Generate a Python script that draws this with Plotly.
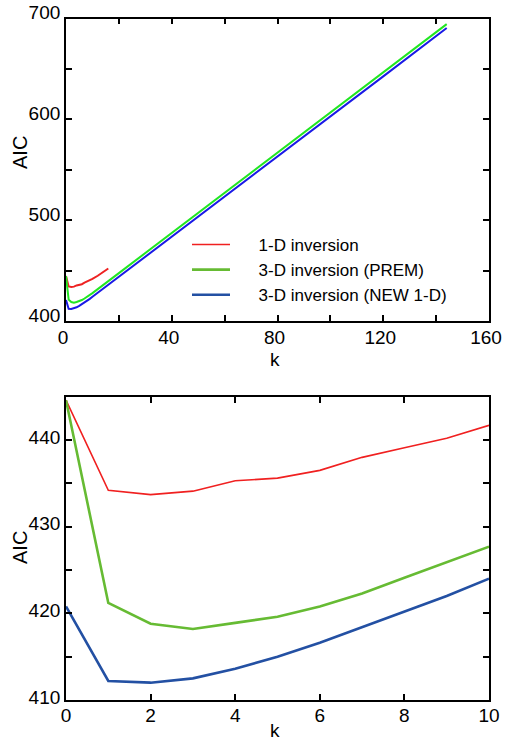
import plotly.graph_objects as go

# ---------------- data ----------------
# top panel (full range of k)
k_red_full = [0, 1, 2, 3, 4, 5, 6, 7, 8, 9, 10, 12, 14, 16]
aic_red_full = [444.6, 434.2, 433.7, 434.1, 435.3, 435.6, 436.5, 438.0, 439.1, 440.2, 441.7, 444.9, 448.4, 452.1]

k_3d_full = [0, 1, 2, 3, 4, 5, 6, 7, 8, 9, 10, 20, 40, 60, 80, 100, 120, 144]
aic_prem_full = [444.6, 421.2, 418.8, 418.2, 418.9, 419.6, 420.8, 422.3, 424.1, 425.9, 427.7,
                 447.5, 487.3, 527.0, 566.8, 606.5, 646.3, 694.4]
aic_new_full = [420.8, 412.2, 412.0, 412.5, 413.6, 415.0, 416.6, 418.4, 420.2, 422.0, 424.0,
                443.8, 483.6, 523.3, 563.1, 602.8, 642.6, 690.6]

# bottom panel (zoom k = 0..10)
k_zoom = [0, 1, 2, 3, 4, 5, 6, 7, 8, 9, 10]
aic_red = [444.6, 434.2, 433.7, 434.1, 435.3, 435.6, 436.5, 438.0, 439.1, 440.2, 441.7]
aic_prem = [444.6, 421.2, 418.8, 418.2, 418.9, 419.6, 420.8, 422.3, 424.1, 425.9, 427.7]
aic_new = [420.8, 412.2, 412.0, 412.5, 413.6, 415.0, 416.6, 418.4, 420.2, 422.0, 424.0]

names = ["1-D inversion", "3-D inversion (PREM)", "3-D inversion (NEW 1-D)"]

top_x_ticks = [0, 20, 40, 60, 80, 100, 120, 140, 160]
top_x_labels = ["0", "", "40", "", "80", "", "120", "", "160"]
top_y_ticks = [400, 450, 500, 550, 600, 650, 700]
top_y_labels = ["400", "", "500", "", "600", "", "700"]
bot_x_ticks = [0, 2, 4, 6, 8, 10]
bot_x_labels = ["0", "2", "4", "6", "8", "10"]
bot_y_ticks = [410, 415, 420, 425, 430, 435, 440, 445]
bot_y_labels = ["410", "", "420", "", "430", "", "440", ""]

FONT = "Liberation Sans, Arial, Helvetica, sans-serif"
PAD = "\u00a0" * 5

fig = go.Figure()
# top panel traces
fig.add_trace(go.Scatter(x=k_red_full, y=aic_red_full, mode="lines", line=dict(color="#ee2222", width=2),
                         showlegend=False, xaxis="x", yaxis="y"))
fig.add_trace(go.Scatter(x=k_3d_full, y=aic_prem_full, mode="lines", line=dict(color="#22e622", width=2),
                         showlegend=False, xaxis="x", yaxis="y"))
fig.add_trace(go.Scatter(x=k_3d_full, y=aic_new_full, mode="lines", line=dict(color="#1a1ae6", width=2),
                         showlegend=False, xaxis="x", yaxis="y"))
# bottom panel traces (also used for the legend)
fig.add_trace(go.Scatter(x=k_zoom, y=aic_red, mode="lines", name=PAD + names[0],
                         line=dict(color="#f02020", width=1.6), xaxis="x2", yaxis="y2"))
fig.add_trace(go.Scatter(x=k_zoom, y=aic_prem, mode="lines", name=PAD + names[1],
                         line=dict(color="#66bb33", width=2.6), xaxis="x2", yaxis="y2"))
fig.add_trace(go.Scatter(x=k_zoom, y=aic_new, mode="lines", name=PAD + names[2],
                         line=dict(color="#2350a3", width=2.6), xaxis="x2", yaxis="y2"))

axis_common = dict(showline=True, linecolor="black", linewidth=1.8, mirror="allticks",
                   ticks="inside", ticklen=6, tickwidth=1.5, tickcolor="black", automargin=False,
                   showgrid=False, zeroline=False, tickfont=dict(family=FONT, size=19, color="black"))

H = 741.0
fig.update_layout(
    width=505, height=741,
    margin=dict(l=66, r=16, t=0, b=0),
    paper_bgcolor="white", plot_bgcolor="white",
    font=dict(family=FONT, color="black"),
    xaxis=dict(domain=[0, 1], range=[0, 160], tickvals=top_x_ticks, ticktext=top_x_labels,
               anchor="y", ticklabelshift=-3, ticklabelstandoff=-2, **axis_common),
    yaxis=dict(domain=[1 - 321 / H, 1 - 18.5 / H], range=[400, 700], tickvals=top_y_ticks,
               ticktext=top_y_labels, anchor="x", ticklabelshift=-6, **axis_common),
    xaxis2=dict(domain=[0, 1], range=[0, 10], tickvals=bot_x_ticks, ticktext=bot_x_labels,
                anchor="y2", ticklabelstandoff=-3, **axis_common),
    yaxis2=dict(domain=[1 - 700 / H, 1 - 396.7 / H], range=[410, 445], tickvals=bot_y_ticks,
                ticktext=bot_y_labels, anchor="x2", ticklabelshift=-3, **axis_common),
    legend=dict(x=(187 - 66) / 423.0, y=1 - 227 / H, xanchor="left", yanchor="top",
                bgcolor="rgba(0,0,0,0)", borderwidth=0, itemwidth=38,
                font=dict(family=FONT, size=17, color="black")),
    annotations=[
        dict(text="AIC", xref="paper", yref="paper", x=0, y=1 - 153 / H, xshift=-46,
             xanchor="center", yanchor="middle",
             showarrow=False, textangle=-90, font=dict(family=FONT, size=20)),
        dict(text="k", xref="paper", yref="paper", x=(275 - 66) / 423.0, y=1 - 360 / H,
             xanchor="center", yanchor="middle",
             showarrow=False, font=dict(family=FONT, size=19)),
        dict(text="AIC", xref="paper", yref="paper", x=0, y=1 - 548 / H, xshift=-46,
             xanchor="center", yanchor="middle",
             showarrow=False, textangle=-90, font=dict(family=FONT, size=20)),
        dict(text="k", xref="paper", yref="paper", x=(275 - 66) / 423.0, y=1 - 730 / H,
             xanchor="center", yanchor="middle",
             showarrow=False, font=dict(family=FONT, size=19)),
    ],
)

fig.write_html("out.html")
